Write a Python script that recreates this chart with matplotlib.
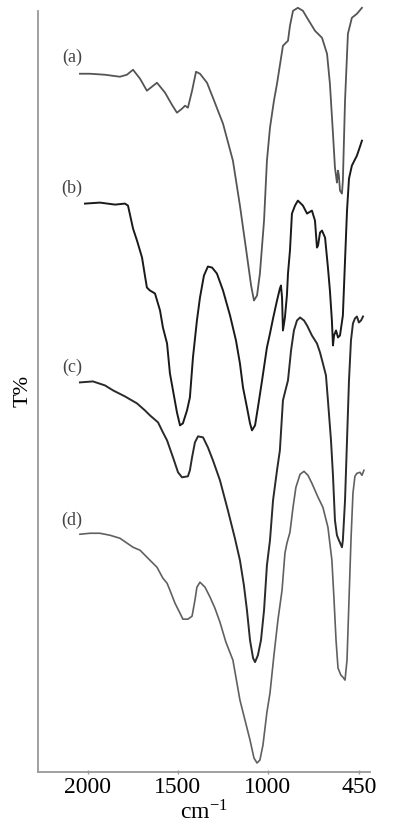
import matplotlib
matplotlib.use("Agg")
import matplotlib.pyplot as plt

plt.rcParams['font.family'] = ['Liberation Serif', 'DejaVu Serif']
plt.rcParams['mathtext.fontset'] = 'stix'

# wavenumber (cm-1) and transmittance (arbitrary, offset)
wn_a = [2043, 1987, 1904, 1821, 1782, 1748, 1709, 1671, 1643, 1615, 1570, 1532, 1504, 1476,
        1459, 1443, 1420, 1398, 1376, 1337, 1304, 1248, 1193, 1154, 1115, 1092, 1076, 1059,
        1043, 1020, 1004, 987, 965, 948, 915, 887, 876, 859, 832, 804, 781, 737, 698, 670,
        654, 637, 626, 620, 615, 609, 604, 598, 587, 582, 570, 554, 532, 504, 476]
t_a = [699, 699, 698, 696, 698, 703, 694, 682, 686, 690, 680, 668, 660, 664,
       667, 665, 682, 701, 699, 690, 675, 649, 612, 567, 517, 487, 472, 477,
       499, 552, 612, 645, 672, 689, 727, 732, 747, 762, 765, 762, 755, 742, 735, 719,
       689, 639, 605, 597, 590, 602, 597, 582, 579, 592, 672, 739, 755, 759, 765]

wn_b = [2015, 1932, 1848, 1793, 1776, 1748, 1726, 1698, 1682, 1671, 1654, 1626, 1598, 1582,
        1559, 1543, 1526, 1504, 1487, 1471, 1448, 1432, 1415, 1393, 1376, 1354, 1332, 1309,
        1282, 1248, 1209, 1176, 1154, 1137, 1115, 1098, 1087, 1070, 1054, 1031, 1004, 987,
        970, 948, 932, 926, 920, 915, 904, 893, 887, 876, 865, 848, 832, 804, 781, 754, 737,
        726, 720, 709, 698, 681, 665, 654, 643, 637, 631, 620, 609, 598, 582, 570, 559, 548,
        532, 504, 487, 476]
t_b = [569, 570, 568, 569, 567, 544, 532, 515, 497, 485, 482, 479, 462, 445,
       429, 399, 382, 360, 347, 349, 362, 375, 415, 452, 475, 497, 506, 505,
       499, 482, 457, 432, 409, 385, 365, 349, 342, 347, 365, 392, 425, 439,
       454, 472, 484, 487, 475, 442, 455, 477, 499, 522, 559, 567, 572, 567, 559, 562, 552,
       525, 527, 540, 542, 535, 505, 482, 452, 427, 437, 442, 435, 437, 457, 512, 562, 594,
       607, 617, 626, 632]

wn_c = [2043, 1971, 1904, 1859, 1793, 1726, 1682, 1654, 1609, 1582, 1559, 1526, 1498, 1476,
        1443, 1432, 1420, 1404, 1387, 1359, 1332, 1304, 1265, 1221, 1182, 1154, 1132, 1115,
        1098, 1081, 1070, 1054, 1037, 1020, 1004, 987, 970, 948, 932, 915, 904, 887, 870,
        854, 837, 820, 798, 781, 754, 726, 709, 693, 676, 665, 648, 637, 626, 615, 604, 587,
        582, 570, 559, 548, 537, 526, 515, 504, 493, 481, 470]
t_c = [390, 391, 387, 382, 376, 369, 362, 357, 350, 340, 332, 315, 300, 295,
       296, 302, 315, 330, 336, 335, 325, 312, 292, 262, 234, 212, 187, 162,
       132, 114, 110, 117, 132, 162, 207, 232, 272, 302, 322, 372, 380, 392, 422,
       442, 452, 455, 452, 447, 437, 429, 420, 409, 397, 372, 332, 297, 252, 237, 232, 225,
       232, 272, 332, 392, 432, 449, 454, 456, 450, 452, 456]

wn_d = [2043, 1987, 1932, 1876, 1821, 1748, 1709, 1654, 1615, 1582, 1559, 1543, 1515, 1487,
        1471, 1443, 1420, 1404, 1393, 1376, 1348, 1320, 1293, 1265, 1232, 1193, 1154, 1126,
        1098, 1076, 1059, 1043, 1026, 1004, 987, 965, 943, 920, 904, 893, 876, 859, 843,
        820, 798, 776, 754, 720, 693, 665, 643, 631, 620, 609, 593, 582, 570, 559, 548, 537,
        526, 515, 504, 487, 476, 465]
t_d = [238, 239, 239, 237, 234, 225, 222, 212, 205, 194, 189, 182, 169, 159,
       153, 153, 156, 172, 185, 190, 185, 175, 164, 150, 130, 112, 72, 52,
       32, 14, 9, 12, 27, 60, 79, 117, 152, 182, 219, 229, 240, 265, 285,
       298, 301, 297, 289, 275, 265, 245, 212, 172, 132, 104, 97, 95, 92, 112, 172, 232,
       279, 296, 299, 300, 297, 302]

labels = ['(a)', '(b)', '(c)', '(d)']
label_t = [715, 584, 405, 252]
tick_pos = [2000, 1500, 1000, 490]
tick_labels = ['2000', '1500', '1000', '450']

fig = plt.figure(figsize=(3.96, 8.31), dpi=100)
ax = fig.add_axes([0.096, 0.071, 0.838, 0.916])

ax.plot(wn_a, t_a, color='#555555', lw=1.3, clip_on=False)
ax.plot(wn_b, t_b, color='#1a1a1a', lw=1.4, clip_on=False)
ax.plot(wn_c, t_c, color='#2a2a2a', lw=1.4, clip_on=False)
ax.plot(wn_d, t_d, color='#606060', lw=1.2, clip_on=False)

for lab, t in zip(labels, label_t):
    ax.text(2087, t, lab, fontsize=13, color='#444444', ha='center', va='center')

ax.set_xlim(2276, 432)
ax.set_ylim(0, 762)

ax.spines['top'].set_visible(False)
ax.spines['right'].set_visible(False)
for s in ['left', 'bottom']:
    ax.spines[s].set_color('#999999')
    ax.spines[s].set_linewidth(1.3)

ax.set_yticks([])
ax.set_xticks(tick_pos)
ax.set_xticklabels(tick_labels)
ax.tick_params(axis='x', direction='inout', length=3, width=1, color='#999999',
               labelsize=17, pad=2)

ax.set_xlabel('cm$^{\\mathregular{-1}}$', fontsize=17, labelpad=2)
ax.set_ylabel('T%', fontsize=16, labelpad=4)

fig.savefig('out.png', dpi=100)
